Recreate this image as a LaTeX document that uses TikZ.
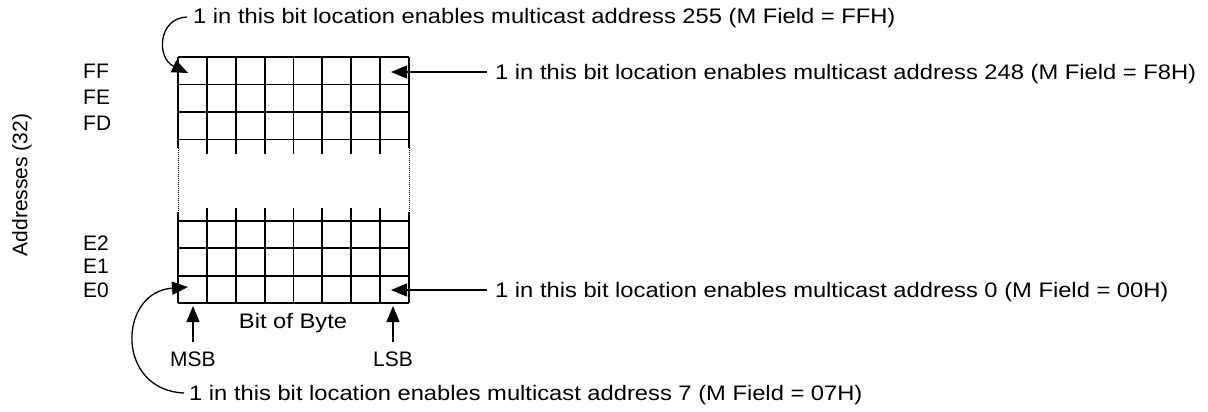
\documentclass[tikz,border=0pt]{standalone}
\usepackage{fontspec}
\setmainfont{Liberation Sans}
\usetikzlibrary{arrows.meta}
\usetikzlibrary{positioning}
\tikzstyle{grid_line}=[line width=1.8pt, black]
\tikzstyle{gap_line}=[line width=1pt, black, densely dotted]
\tikzstyle{pointer}=[line width=1.3pt, -{Triangle[length=16pt,width=13pt]}]
\tikzstyle{note}=[anchor=base west, inner sep=0pt, font=\fontsize{21}{24}\selectfont]
\tikzstyle{lbl}=[inner sep=0pt, font=\fontsize{21}{24}\selectfont]
\newcommand{\wide}[1]{\scalebox{1.13}[1]{#1}}

\begin{document}
\begin{tikzpicture}[x=1pt, y=-1pt]
          \useasboundingbox (0,0) rectangle (1208,412);
          % upper block: FF, FE, FD
          \foreach \r in {57,84.5,112,139.5}
            \draw[grid_line] (178,\r) -- (409,\r);
          \foreach \c in {1,...,7}
            \draw[grid_line] (178+28.875*\c,57) -- (178+28.875*\c,154);
          \draw[grid_line] (178,57) -- (178,148);
          \draw[grid_line] (409,57) -- (409,148);
          % gap
          \draw[gap_line] (178,148) -- (178,212);
          \draw[gap_line] (409,148) -- (409,212);
          % lower block: E2, E1, E0
          \foreach \r in {221,248,276,303}
            \draw[grid_line] (178,\r) -- (409,\r);
          \foreach \c in {1,...,7}
            \draw[grid_line] (178+28.875*\c,208) -- (178+28.875*\c,303);
          \draw[grid_line] (178,212) -- (178,303);
          \draw[grid_line] (409,212) -- (409,303);
          % row labels
          \node[note] (lFF) at (83,78){FF};
          \node[note] (lFE) at (83,104){FE};
          \node[note] (lFD) at (83,130){FD};
          \node[note] (lE2) at (83,250){E2};
          \node[note] (lE1) at (83,273){E1};
          \node[note] (lE0) at (83,297){E0};
          \node[lbl, rotate=90] (addr) at (22,185){Addresses (32)};
          % bit labels
          \node[lbl] (byte) at (293,323){\wide{Bit of Byte}};
          \node[lbl, anchor=north] (msb) at (193,352){MSB};
          \node[lbl, anchor=north] (lsb) at (393,352){LSB};
          \coordinate (msbtip) at (193,306);
          \coordinate (lsbtip) at (393,306);
          \draw[pointer] ([yshift=10pt]msb.north) -- (msbtip);
          \draw[pointer] ([yshift=10pt]lsb.north) -- (lsbtip);
          % notes
          \node[note] (n255) at (193,24){\wide{1 in this bit location enables multicast address 255 (M Field = FFH)}};
          \node[note] (n248) at (495,79.5){\wide{1 in this bit location enables multicast address 248 (M Field = F8H)}};
          \node[note] (n0) at (495,297.5){\wide{1 in this bit location enables multicast address 0 (M Field = 00H)}};
          \node[note] (n7) at (189,400){\wide{1 in this bit location enables multicast address 7 (M Field = 07H)}};
          \coordinate (t255) at (188,73);
          \coordinate (t248) at (391,72);
          \coordinate (t0) at (391,290);
          \coordinate (t7) at (188,287);
          \coordinate (s248) at (487,72);
          \coordinate (s0) at (487,290);
          \draw[pointer] (s248) -- (t248);
          \draw[pointer] (s0) -- (t0);
          \draw[pointer] (187,17) .. controls (158,18) and (156,58) .. (t255);
          \draw[pointer] (184,393) .. controls (115,390) and (118,292) .. (t7);
        \end{tikzpicture}
\end{document}
